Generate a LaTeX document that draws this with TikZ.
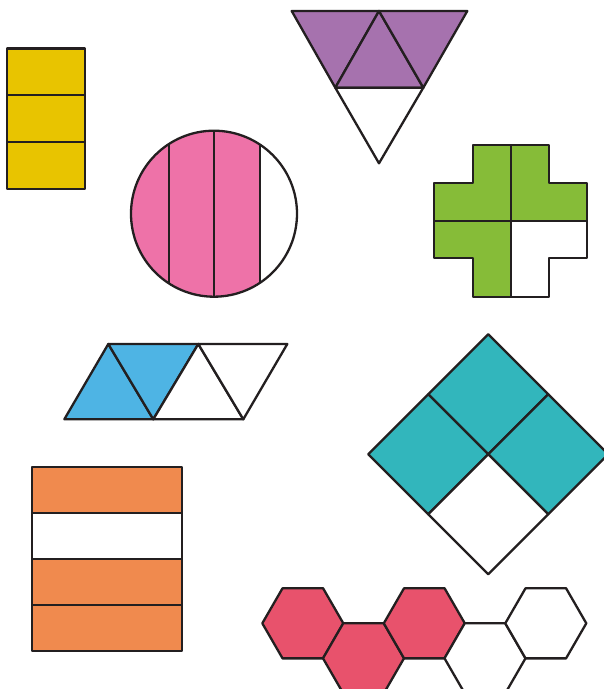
\documentclass[tikz,border=0pt]{standalone}
\usepackage{tikz}
\usetikzlibrary{calc}
\definecolor{ink}{HTML}{231F20}
\definecolor{sun}{HTML}{E8C400}
\definecolor{rose}{HTML}{EE72A8}
\definecolor{plum}{HTML}{A672AE}
\definecolor{leaf}{HTML}{86BC38}
\definecolor{sky}{HTML}{4EB4E4}
\definecolor{peach}{HTML}{F08A4E}
\definecolor{lagoon}{HTML}{32B6BC}
\definecolor{berry}{HTML}{E8526C}
\begin{document}
\begin{tikzpicture}[x=1pt,y=-1pt,line join=round,
    part/.style={draw=ink,line width=2.3pt}]
    \useasboundingbox (0,0) rectangle (604,689);
    \foreach \i/\c in {0/sun,1/sun,2/sun}{
      \draw[part,fill=\c] (7,48.5+46.8*\i) rectangle ++(78,46.8);}
    \foreach \i/\c in {0/peach,1/white,2/peach,3/peach}{
      \draw[part,fill=\c] (32.3,466.7+46.1*\i) rectangle ++(150,46.1);}
    \begin{scope}
      \clip (214,213.7) circle (83);
      \fill[rose] (120,120) rectangle (260,310);
      \foreach \x in {169,214,260}{
        \draw[part] (\x,120) -- (\x,310);}
    \end{scope}
    \draw[part] (214,213.7) circle (83);
    \coordinate (pa) at (291.7,11);
    \coordinate (pb) at (379,11);
    \coordinate (pc) at (467.3,11);
    \coordinate (pd) at (335.3,87.7);
    \coordinate (pe) at (423.3,87.7);
    \coordinate (pf) at (379,163.3);
    \foreach \p/\q/\r/\c in {pa/pb/pd/plum,pb/pe/pd/plum,pb/pc/pe/plum,pd/pe/pf/white}{
      \draw[part,fill=\c] (\p) -- (\q) -- (\r) -- cycle;}
    \draw[part,fill=leaf] (473,145) -- (511,145) -- (511,221) -- (434,221) -- (434,183) -- (473,183) -- cycle;
    \draw[part,fill=leaf] (511,145) -- (549,145) -- (549,183) -- (587,183) -- (587,221) -- (511,221) -- cycle;
    \draw[part,fill=leaf] (434,221) -- (511,221) -- (511,297) -- (473,297) -- (473,258) -- (434,258) -- cycle;
    \draw[part,fill=white] (511,221) -- (587,221) -- (587,258) -- (549,258) -- (549,297) -- (511,297) -- cycle;
    \coordinate (b1) at (64.3,419.3);
    \coordinate (b2) at (108.3,344);
    \coordinate (b3) at (153.3,419.3);
    \coordinate (b4) at (198.3,344);
    \coordinate (b5) at (243.3,419.3);
    \coordinate (b6) at (287.3,344);
    \foreach \p/\q/\r/\c in {b1/b2/b3/sky,b2/b4/b3/sky,b3/b4/b5/white,b4/b6/b5/white}{
      \draw[part,fill=\c] (\p) -- (\q) -- (\r) -- cycle;}
    \coordinate (dm) at (488.3,454.3);
    \foreach \a/\c in {270/lagoon,180/lagoon,0/lagoon,90/white}{
      \draw[part,fill=\c] (dm) -- ++(\a-45:84.85) -- ++(\a+45:84.85) -- ++(\a+135:84.85) -- cycle;}
    \foreach \x/\y/\c in {302.8/623.3/berry,363.5/658.3/berry,424.3/623.3/berry,
                          485/658.3/white,545.8/623.3/white}{
      \draw[part,fill=\c] (\x,\y) +(0:40.5) \foreach \a in {60,120,...,300}{-- +(\a:40.5)} -- cycle;}
\end{tikzpicture}
\end{document}
